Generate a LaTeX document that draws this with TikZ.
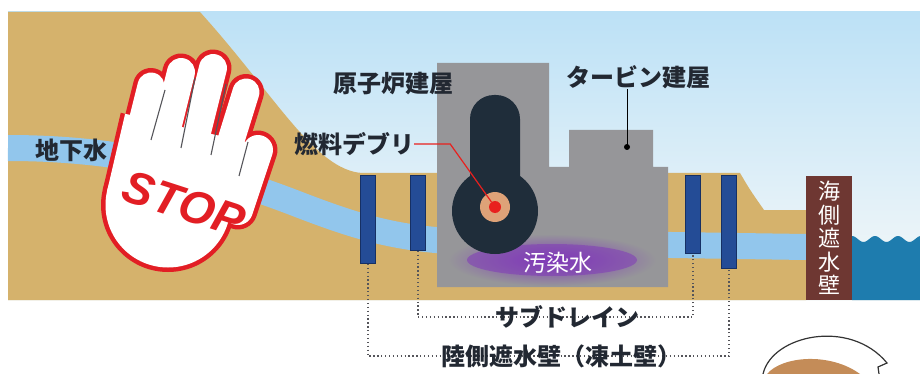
\documentclass[tikz,border=0pt]{standalone}
\usepackage{fontspec}
\newfontfamily\jp{Noto Sans CJK JP}
\newfontfamily\stopfont{Liberation Sans}
\definecolor{skytop}{RGB}{188,225,246}
\definecolor{skylow}{RGB}{247,249,249}
\definecolor{soil}{RGB}{213,178,108}
\definecolor{gwater}{RGB}{146,198,236}
\definecolor{pillarblue}{RGB}{36,76,150}
\definecolor{pillaredge}{RGB}{22,48,100}
\definecolor{bldgray}{RGB}{150,150,153}
\definecolor{vessel}{RGB}{31,45,58}
\definecolor{corering}{RGB}{222,162,120}
\definecolor{debrisred}{RGB}{232,32,30}
\definecolor{glow}{RGB}{128,58,184}
\definecolor{wallbrown}{RGB}{110,55,50}
\definecolor{seablue}{RGB}{30,124,174}
\definecolor{handred}{RGB}{226,30,36}
\definecolor{labelink}{RGB}{34,40,50}
\definecolor{leadergray}{RGB}{85,85,90}
\definecolor{hair}{RGB}{196,140,88}

\begin{document}
\begin{tikzpicture}[x=1pt,y=-1pt,
	label/.style={font=\jp\bfseries\fontsize{24}{24}\selectfont, text=labelink, inner sep=0pt},
	pillar/.style={draw=pillaredge, fill=pillarblue, line width=0.8pt, minimum width=15pt, inner sep=0pt, anchor=north},
	leader/.style={leadergray, line width=1.1pt, dash pattern=on 1.3pt off 2.6pt},
	pointer/.style={black, line width=1pt}]
	\useasboundingbox (0,0) rectangle (920,374);

	% sky, ground, groundwater
	\shade[top color=skytop, bottom color=skylow] (8,12) rectangle (920,300);
	\fill[soil] (8,12) -- (200,12) .. controls (275,95) and (315,170) .. (362,173)
		-- (740,173) .. controls (750,190) .. (764,210) -- (806,210) -- (806,300) -- (8,300) -- cycle;
	\draw[gwater, line width=26pt] (8,148) .. controls (120,148) and (210,170) .. (300,205)
		.. controls (360,228) and (400,240) .. (470,242) -- (806,247);

	% sea side
	\fill[seablue] (852,300) -- (852,240)
		-- plot[domain=852:920, samples=60] (\x, {239-3*cos((\x-852)*15.65)}) -- (920,300) -- cycle;
	\node[fill=wallbrown, minimum width=46pt, minimum height=124pt, inner sep=0pt,
		font=\jp\fontsize{22}{23.5}\selectfont, text=white, align=center] (seawall) at (829,238)
		{海\\側\\遮\\水\\壁};

	% stop hand: palm, fingers, thumb
	\draw[handred, line width=134pt] (186,128) -- (168,205);
	\fill[handred] (168,205) circle[radius=67];
	\foreach \xa/\ya/\xb/\yb/\w in {151/86/135/150/27, 181/72/163/145/28,
		213/68/195/140/28, 246/92/228/150/27, 258/150/238/210/30}
		\draw[handred, line cap=round, line width={\w+9}] (\xa,\ya) -- (\xb,\yb);
	\draw[white, line width=125pt] (186,128) -- (168,205);
	\fill[white] (168,205) circle[radius=62.5];
	\foreach \xa/\ya/\xb/\yb/\w in {151/86/135/150/27, 181/72/163/145/28,
		213/68/195/140/28, 246/92/228/150/27, 258/150/238/210/30}
		\draw[white, line cap=round, line width=\w] (\xa,\ya) -- (\xb,\yb);
	\foreach \xa/\ya/\xb/\yb in {165/90/151/140, 195/78/181/148, 226/84/211/155, 248/142/239/176}
		\draw[leadergray, line width=1.1pt] (\xa,\ya) -- (\xb,\yb);
	\node[rotate=-18, font=\stopfont\bfseries\itshape\fontsize{46}{46}\selectfont, text=handred] (stop) at (184,204) {STOP};

	% buildings
	\fill[bldgray] (437,63) -- (549,63) -- (549,167) -- (569,167) -- (569,130) -- (653,130)
		-- (653,167) -- (668,167) -- (668,287) -- (437,287) -- cycle;
	\shade[inner color=glow, outer color=bldgray] (552,260) ellipse[x radius=104, y radius=26];
	\fill[glow, opacity=0.55] (552,260) ellipse[x radius=85, y radius=16];
	\fill[vessel, rounded corners=24pt] (470,230) rectangle (520,95);
	\fill[vessel] (495,211) circle[radius=43];
	\fill[corering] (495,207) circle[radius=15];
	\node[circle, fill=debrisred, minimum size=12pt, inner sep=0pt] (debris) at (495,207) {};
	\node[font=\jp\fontsize{23}{23}\selectfont, text=white, inner sep=0pt] (osensui) at (558,263) {汚染水};

	% ice wall and subdrain pits
	\node[pillar, minimum height=88pt] (lw1) at (368,175) {};
	\node[pillar, minimum height=75pt] (sd1) at (418,175) {};
	\node[pillar, minimum height=78pt] (sd2) at (693,175) {};
	\node[pillar, minimum height=93pt] (lw2) at (729,175) {};

	\coordinate (subpos) at (567,317);
	\coordinate (icepos) at (561,356);
	\draw[leader] (sd1.south) |- (subpos) -| (sd2.south);
	\draw[leader] (lw1.south) |- (icepos) -| (lw2.south);

	\node[label] (gwlbl) at (71,150) {地下水};
	\node[label] (reactor) at (393,84) {原子炉建屋};
	\node[label] (turbine) at (638,77) {タービン建屋};
	\node[label] (debrislbl) at (354,144) {燃料デブリ};
	\node[label] (subdrain) at (subpos) {サブドレイン};
	\node[label] (icewall) at (icepos) {陸側遮水壁（凍土壁）};

	\coordinate (tdot) at (627,147);
	\draw[pointer] (turbine.south -| tdot) -- (tdot);
	\fill (tdot) circle[radius=3];
	\draw[debrisred, line width=1.2pt] (debrislbl.east) -- ++(36,0) -- (debris);

	% little figure peeking in
	\fill[hair] (767,374) .. controls (782,356) and (830,352) .. (860,374) -- cycle;
	\draw[black!80, line width=1.2pt] (763,374) .. controls (772,335) and (850,318) .. (887,363)
		-- (878,367) -- (879,374);
\end{tikzpicture}
\end{document}
